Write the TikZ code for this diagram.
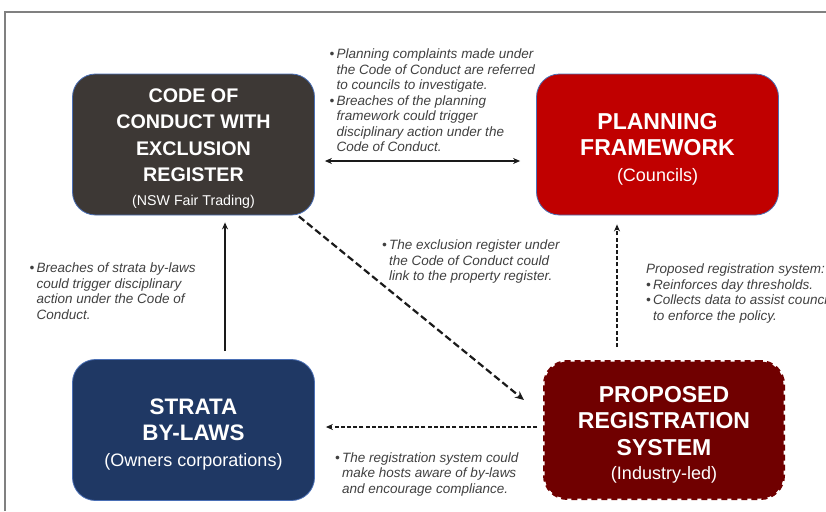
\documentclass[tikz,border=0pt]{standalone}
\usepackage{fontspec}
\setmainfont{Liberation Sans}
\usetikzlibrary{arrows.meta}

\definecolor{codefill}{HTML}{3D3835}
\definecolor{planfill}{HTML}{C00000}
\definecolor{stratafill}{HTML}{1F3864}
\definecolor{regfill}{HTML}{700000}
\definecolor{boxedge}{HTML}{4A6FB5}
\definecolor{notegray}{HTML}{404040}
\definecolor{linkgray}{HTML}{1A1A1A}

% bullet and hanging indent for the side notes
\newcommand\itm{\makebox[7pt][l]{\textbullet}}
\newcommand\ind{\hspace*{7pt}}
% extra height on a box's first line, pushes the text block down a bit
\newcommand\topstrut{\rule{0pt}{1.1em}}

\tikzset{
  >={Stealth[length=7pt,width=6pt]},
  box/.style={rounded corners=23pt, minimum width=242pt, minimum height=141pt,
    text=white, align=center, inner sep=0pt, draw=boxedge, line width=0.8pt},
  note/.style={anchor=north west, inner sep=0pt, text=notegray,
    font=\fontsize{13.5}{15.5}\selectfont\itshape},
  link/.style={->, draw=linkgray, line width=1.4pt},
  bigdash/.style={line width=2.2pt, dash pattern=on 7pt off 3.5pt,
    >={Stealth[length=9pt,width=8pt]}},
  smalldash/.style={line width=1.6pt, dash pattern=on 4pt off 2.2pt},
  frame/.style={draw=gray, line width=1.3pt},
}

\begin{document}
\begin{tikzpicture}[x=1pt, y=-1pt]
  \useasboundingbox (0,0) rectangle (826,511);
  \draw[frame] (5,511) -- (5,12) -- (826,12);

  % the four boxes
  \node[box, fill=codefill, font=\bfseries\fontsize{19.7}{26.6}\selectfont]
    (code) at (193.5,144.5)
    {\topstrut CODE OF\\CONDUCT WITH\\EXCLUSION\\REGISTER\\[-3pt]
     {\mdseries\fontsize{14.2}{17}\selectfont (NSW Fair Trading)}};
  \node[box, fill=planfill, font=\bfseries\fontsize{23}{26.3}\selectfont]
    (plan) at (657.5,144.5)
    {\topstrut PLANNING\\FRAMEWORK\\[-1pt]
     {\mdseries\fontsize{18}{21}\selectfont (Councils)}};
  \node[box, fill=stratafill, font=\bfseries\fontsize{22.4}{26.5}\selectfont]
    (strata) at (193.5,430)
    {\topstrut STRATA\\BY-LAWS\\[-0.5pt]
     {\mdseries\fontsize{18}{21}\selectfont (Owners corporations)}};
  \node[box, fill=regfill, draw=regfill, line width=3pt,
    dash pattern=on 6pt off 4pt, minimum width=239pt, minimum height=137pt,
    font=\bfseries\fontsize{23}{26.8}\selectfont]
    (reg) at (664,430)
    {\topstrut PROPOSED\\REGISTRATION\\SYSTEM\\[-3pt]
     {\mdseries\fontsize{18}{21}\selectfont (Industry-led)}};

  % links between the boxes
  \draw[link, <->] ([xshift=10pt,yshift=-16.5pt]code.east)
    -- ([xshift=-16pt,yshift=-16.5pt]plan.west);
  \draw[link] ([xshift=31.5pt,yshift=8pt]strata.north)
    -- ([xshift=31.5pt,yshift=-7pt]code.south);
  \draw[link, bigdash] ([xshift=-16pt,yshift=-1pt]code.south east)
    -- ([xshift=-19pt,yshift=30pt]reg.west);
  \draw[link, smalldash] ([xshift=-47pt,yshift=13pt]reg.north)
    -- ([xshift=-40.5pt,yshift=-9pt]plan.south);
  \draw[link, smalldash] ([xshift=-6pt,yshift=3pt]reg.west)
    -- ([xshift=11pt,yshift=3pt]strata.east);

  % notes along the links
  \node[note] (n-plan) at (329.5,47.6) {\begin{tabular}{@{}l@{}}
    \itm Planning complaints made under\\
    \ind the Code of Conduct are referred\\
    \ind to councils to investigate.\\
    \itm Breaches of the planning\\
    \ind framework could trigger\\
    \ind disciplinary action under the\\
    \ind Code of Conduct.
  \end{tabular}};
  \node[note] (n-strata) at (29.5,261.7) {\begin{tabular}{@{}l@{}}
    \itm Breaches of strata by-laws\\
    \ind could trigger disciplinary\\
    \ind action under the Code of\\
    \ind Conduct.
  \end{tabular}};
  \node[note] (n-excl) at (382,238.6) {\begin{tabular}{@{}l@{}}
    \itm The exclusion register under\\
    \ind the Code of Conduct could\\
    \ind link to the property register.
  \end{tabular}};
  \node[note] (n-reg) at (646,262.6) {\begin{tabular}{@{}l@{}}
    Proposed registration system:\\
    \itm Reinforces day thresholds.\\
    \itm Collects data to assist councils\\
    \ind to enforce the policy.
  \end{tabular}};
  \node[note] (n-hosts) at (335,451) {\begin{tabular}{@{}l@{}}
    \itm The registration system could\\
    \ind make hosts aware of by-laws\\
    \ind and encourage compliance.
  \end{tabular}};
\end{tikzpicture}
\end{document}
